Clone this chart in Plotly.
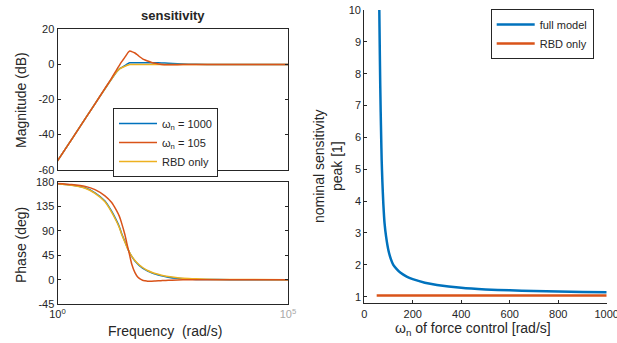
import plotly.graph_objects as go

# ---------------- data ----------------
freq = [1, 2, 4, 6.5, 10.7, 14.8, 19, 22, 24.5, 28.8, 31.6, 34.3, 37, 40.7, 47.9, 55, 61.7,
        70, 79.4, 90, 110, 131.8, 180, 251, 400, 700, 1000, 3000, 10000, 100000]

mag_wn1000 = [-55, -43, -30.9, -22.5, -13.9, -8.4, -4.3, -2.5, -1.8, -0.7, 0.0, 0.6, 0.9, 1.0,
              1.0, 1.0, 1.0, 1.0, 1.0, 1.0, 1.0, 0.95, 0.85, 0.65, 0.35, 0.1, 0.03, 0.0, 0.0, 0.0]
mag_wn105 = [-55, -43, -30.9, -22.5, -13.7, -8.0, -3.2, -0.5, 1.4, 4.0, 5.6, 6.9, 7.6, 7.3,
             6.5, 5.3, 4.2, 3.2, 2.5, 1.9, 1.1, 0.6, 0.0, -0.2, -0.15, -0.05, 0.0, 0.0, 0.0, 0.0]
mag_rbd = [-55, -43, -30.9, -22.5, -13.9, -8.4, -4.3, -2.7, -1.9, -1.1, -0.6, -0.3, -0.12, -0.04,
           0.0, 0.0, 0.0, 0.0, 0.0, 0.0, 0.0, 0.0, 0.0, 0.0, 0.0, 0.0, 0.0, 0.0, 0.0, 0.0]

ph_wn1000 = [177.5, 175, 169.8, 160.5, 145.5, 127, 109.5, 97.5, 86, 71, 62.5, 55, 49, 43,
             34.5, 29, 25, 21.5, 18.5, 16, 12.8, 10.4, 7.2, 4.6, 2.4, 1.0, 0.5, 0.1, 0.0, 0.0]
ph_wn105 = [178, 176, 172.5, 166.5, 155, 143, 128, 117, 105, 84, 69, 56, 44, 29,
            13, 5, 1.5, -1, -2, -2.8, -3, -2.6, -1.8, -1, -0.5, -0.2, -0.1, 0.0, 0.0, 0.0]
ph_rbd = [177.4, 174.5, 169, 159.5, 144, 125.5, 108, 96, 84.5, 70, 61.6, 55, 49.6, 43.5,
          35.3, 29.8, 26.0, 22.5, 19.5, 17.0, 13.7, 11.3, 8.2, 5.8, 3.7, 2.1, 1.5, 0.5, 0.15, 0.0]

wn = [61, 62.3, 64, 66, 68, 70, 72, 75, 79, 84, 90, 100, 110, 120, 135, 150, 175, 200, 250,
      300, 400, 500, 600, 700, 800, 900, 1000]
peak_full = [10.8, 10.0, 8.9, 7.7, 6.8, 6.0, 5.3, 4.6, 3.9, 3.3, 2.9, 2.45, 2.18, 2.0, 1.86,
             1.75, 1.63, 1.55, 1.44, 1.37, 1.28, 1.23, 1.20, 1.18, 1.16, 1.15, 1.14]
wn_rbd = [51.5, 1000]
peak_rbd = [1.04, 1.04]

names_left = ["ω<sub>n</sub> = 1000", "ω<sub>n</sub> = 105", "RBD only"]
names_right = ["full model", "RBD only"]
mag_ticks = [-60, -40, -20, 0, 20]
mag_ticktext = ["-60", "-40", "-20", "0", "20"]
ph_ticks = [-45, 0, 45, 90, 135, 180]
ph_ticktext = ["-45", "0", "45", "90", "135", "180"]
right_yticks = [1, 2, 3, 4, 5, 6, 7, 8, 9, 10]
right_xticks = [0, 200, 400, 600, 800, 1000]

# ---------------- style ----------------
BLUE, RED, YEL = "#0072BD", "#D95319", "#EDB120"
AX = "#262626"
FONT = "Liberation Sans, Arial, Helvetica, sans-serif"
W, H = 617, 343


def px_x(p):
    return p / W


def px_y(p):
    return 1 - p / H


fig = go.Figure()

sp = dict(shape="spline", smoothing=0.6)
# magnitude (draw order: blue, yellow, red)
fig.add_trace(go.Scatter(x=freq, y=mag_wn1000, mode="lines", name=names_left[0],
                         line=dict(color=BLUE, width=1.5, **sp),
                         xaxis="x", yaxis="y", legend="legend", legendrank=1))
fig.add_trace(go.Scatter(x=freq, y=mag_rbd, mode="lines", name=names_left[2],
                         line=dict(color=YEL, width=1.5, **sp),
                         xaxis="x", yaxis="y", legend="legend", legendrank=3))
fig.add_trace(go.Scatter(x=freq, y=mag_wn105, mode="lines", name=names_left[1],
                         line=dict(color=RED, width=1.5, **sp),
                         xaxis="x", yaxis="y", legend="legend", legendrank=2))
# phase
fig.add_trace(go.Scatter(x=freq, y=ph_wn1000, mode="lines", showlegend=False,
                         line=dict(color=BLUE, width=1.5, **sp),
                         xaxis="x2", yaxis="y2"))
fig.add_trace(go.Scatter(x=freq, y=ph_rbd, mode="lines", showlegend=False,
                         line=dict(color=YEL, width=1.5, **sp),
                         xaxis="x2", yaxis="y2"))
fig.add_trace(go.Scatter(x=freq, y=ph_wn105, mode="lines", showlegend=False,
                         line=dict(color=RED, width=1.5, **sp),
                         xaxis="x2", yaxis="y2"))
# right panel
fig.add_trace(go.Scatter(x=wn, y=peak_full, mode="lines", name=names_right[0],
                         line=dict(color=BLUE, width=2.5, shape="spline", smoothing=0.5),
                         xaxis="x3", yaxis="y3", legend="legend2"))
fig.add_trace(go.Scatter(x=wn_rbd, y=peak_rbd, mode="lines", name=names_right[1],
                         line=dict(color=RED, width=2.5),
                         xaxis="x3", yaxis="y3", legend="legend2"))

left_dom = [px_x(57.5), px_x(288)]
common = dict(showline=True, linecolor=AX, linewidth=1, ticks="inside", ticklen=3,
              tickcolor=AX, showgrid=False, zeroline=False, automargin=False,
              tickfont=dict(family=FONT, size=11, color=AX))

fig.update_layout(
    width=W, height=H, margin=dict(l=0, r=0, t=0, b=0),
    paper_bgcolor="white", plot_bgcolor="white",
    font=dict(family=FONT, size=11, color=AX),
    xaxis=dict(common, type="log", range=[0, 5], domain=left_dom, mirror=True,
               anchor="y", showticklabels=False, ticks=""),
    yaxis=dict(common, range=[-60, 20], domain=[px_y(169.7), px_y(29.3)], mirror="ticks",
               anchor="x", tickvals=mag_ticks, ticktext=mag_ticktext),
    xaxis2=dict(common, type="log", range=[0, 5], domain=left_dom, mirror=True,
                anchor="y2", ticks="", tickvals=[1, 100000], ticklabeloverflow="allow",
                ticktext=["10<sup>0</sup>", "<span style='color:#a8a8a8'>10<sup>5</sup></span>"]),
    yaxis2=dict(common, range=[-45, 180], domain=[px_y(304), px_y(182.3)], mirror="ticks",
                anchor="x2", tickvals=ph_ticks, ticktext=ph_ticktext),
    xaxis3=dict(common, range=[0, 1000], domain=[px_x(364.2), px_x(606.7)],
                anchor="y3", tickvals=right_xticks, ticklabeloverflow="allow"),
    yaxis3=dict(common, range=[0.793, 10], domain=[px_y(303.3), px_y(10)],
                anchor="x3", tickvals=right_yticks),
    legend=dict(x=px_x(113), y=px_y(108), xanchor="left", yanchor="top",
                bgcolor="white", bordercolor=AX, borderwidth=1, itemwidth=38,
                font=dict(family=FONT, size=11, color=AX), tracegroupgap=0),
    legend2=dict(x=px_x(490.7), y=px_y(9), xanchor="left", yanchor="top",
                 bgcolor="white", bordercolor=AX, borderwidth=1, itemwidth=38,
                 font=dict(family=FONT, size=11, color=AX)),
    showlegend=True,
)

ann = [
    dict(text="<b>sensitivity</b>", x=px_x(173), y=px_y(15), size=13),
    dict(text="Magnitude (dB)", x=px_x(21), y=px_y(100), textangle=-90, size=14),
    dict(text="Phase (deg)", x=px_x(21), y=px_y(245), textangle=-90, size=14),
    dict(text="Frequency  (rad/s)", x=px_x(165), y=px_y(331), size=14),
    dict(text="nominal sensitivity<br>peak [1]", x=px_x(328), y=px_y(166), textangle=-90,
         size=14),
    dict(text="ω<sub>n</sub> of force control [rad/s]", x=px_x(473), y=px_y(329), size=14),
]
for a in ann:
    size = a.pop("size")
    fig.add_annotation(xref="paper", yref="paper", showarrow=False,
                       xanchor="center", yanchor="middle",
                       font=dict(family=FONT, color=AX, size=size), **a)

fig.write_html("out.html", config={"displayModeBar": False},
               post_script="document.body.style.margin='0';document.body.style.padding='0';")
